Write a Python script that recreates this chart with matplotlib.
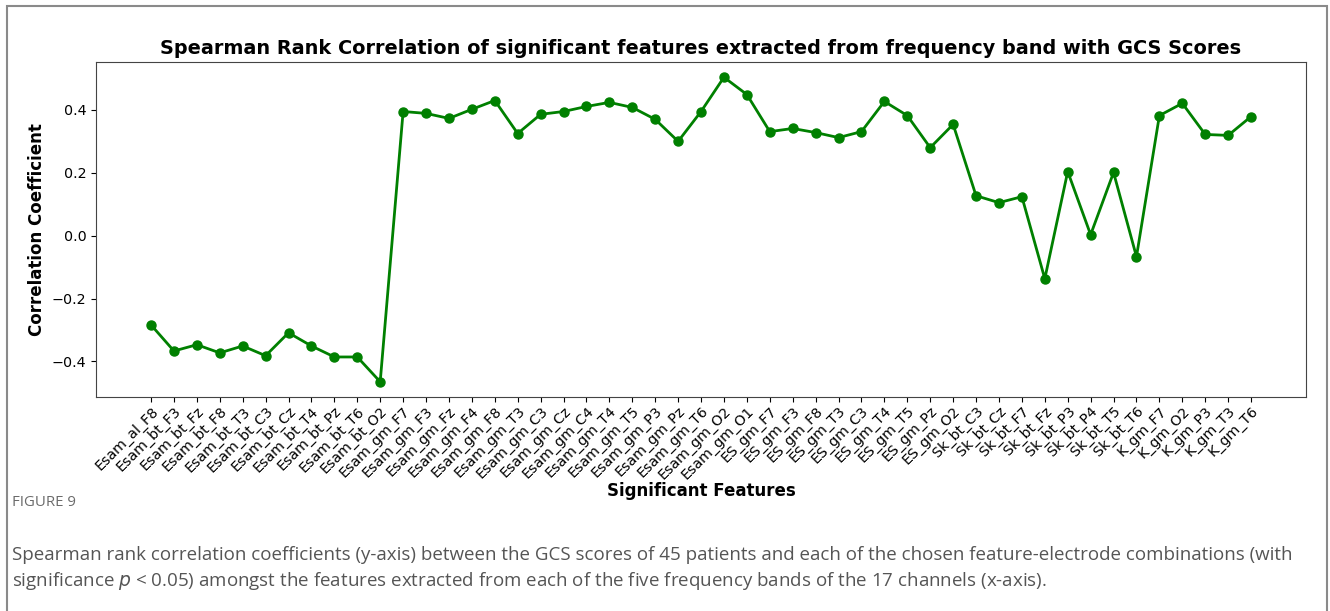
import matplotlib
matplotlib.use("Agg")
import matplotlib.pyplot as plt
from matplotlib.patches import Rectangle

features = [
    "Esam_al_F8", "Esam_bt_F3", "Esam_bt_Fz", "Esam_bt_F8", "Esam_bt_T3", "Esam_bt_C3",
    "Esam_bt_Cz", "Esam_bt_T4", "Esam_bt_Pz", "Esam_bt_T6", "Esam_bt_O2",
    "Esam_gm_F7", "Esam_gm_F3", "Esam_gm_Fz", "Esam_gm_F4", "Esam_gm_F8", "Esam_gm_T3",
    "Esam_gm_C3", "Esam_gm_Cz", "Esam_gm_C4", "Esam_gm_T4", "Esam_gm_T5", "Esam_gm_P3",
    "Esam_gm_Pz", "Esam_gm_T6", "Esam_gm_O2", "Esam_gm_O1",
    "ES_gm_F7", "ES_gm_F3", "ES_gm_F8", "ES_gm_T3", "ES_gm_C3", "ES_gm_T4", "ES_gm_T5",
    "ES_gm_Pz", "ES_gm_O2",
    "Sk_bt_C3", "Sk_bt_Cz", "Sk_bt_F7", "Sk_bt_Fz", "Sk_bt_P3", "Sk_bt_P4", "Sk_bt_T5",
    "Sk_bt_T6",
    "K_gm_F7", "K_gm_O2", "K_gm_P3", "K_gm_T3", "K_gm_T6",
]

correlations = [
    -0.284, -0.367, -0.347, -0.373, -0.351, -0.382, -0.309, -0.351, -0.386, -0.386, -0.465,
    0.395, 0.389, 0.373, 0.402, 0.430, 0.325, 0.386, 0.395, 0.411, 0.424, 0.408, 0.370,
    0.300, 0.395, 0.504, 0.449,
    0.331, 0.341, 0.328, 0.312, 0.331, 0.427, 0.382, 0.280, 0.354,
    0.127, 0.105, 0.124, -0.137, 0.204, 0.003, 0.201, -0.067,
    0.382, 0.421, 0.322, 0.319, 0.379,
]

title = "Spearman Rank Correlation of significant features extracted from frequency band with GCS Scores"
fig_label = "FIGURE 9"
caption_1 = ("Spearman rank correlation coefficients (y-axis) between the GCS scores of 45 patients "
             "and each of the chosen feature-electrode combinations (with")
caption_2 = ("significance $p$ < 0.05) amongst the features extracted from each of the five frequency "
             "bands of the 17 channels (x-axis).")

fig = plt.figure(figsize=(13.3, 6.11), dpi=100)
ax = fig.add_axes([0.0722, 0.3502, 0.9098, 0.5483])

x = list(range(len(features)))
ax.plot(x, correlations, color="green", marker="o", markersize=6.5, linewidth=2)
ax.set_xticks(x)
ax.set_xticklabels(features, rotation=45, ha="right", rotation_mode="anchor", fontsize=10.3)
ax.set_yticks([-0.4, -0.2, 0.0, 0.2, 0.4])
ax.set_yticklabels(["\u22120.4", "\u22120.2", "0.0", "0.2", "0.4"], fontsize=10.3)
ax.tick_params(axis="x", pad=1.5)
for s in ax.spines.values():
    s.set_color("#444444")
ax.set_title(title, fontsize=13.85, fontweight="bold", pad=6)
ax.set_ylabel("Correlation Coefficient", fontsize=12, fontweight="bold")
ax.set_xlabel("Significant Features", fontsize=12, fontweight="bold")
ax.xaxis.set_label_coords(0.5, -0.253)

fig.patches.append(Rectangle((7 / 1330, -0.1), 1320 / 1330, 1.1 - 6 / 611,
                             transform=fig.transFigure, fill=False,
                             edgecolor="#8a8a8a", linewidth=1.5))

fig.text(12 / 1330, 1 - 503 / 611, fig_label, fontsize=10.8, color="#6b6b6b",
         family="Open Sans", va="center")
fig.text(12 / 1330, 1 - 555 / 611, caption_1, fontsize=13.5, color="#555555",
         family="Open Sans", va="center")
fig.text(12 / 1330, 1 - 581 / 611, caption_2, fontsize=13.5, color="#555555",
         family="Open Sans", va="center")

fig.savefig("out.png", dpi=100)
